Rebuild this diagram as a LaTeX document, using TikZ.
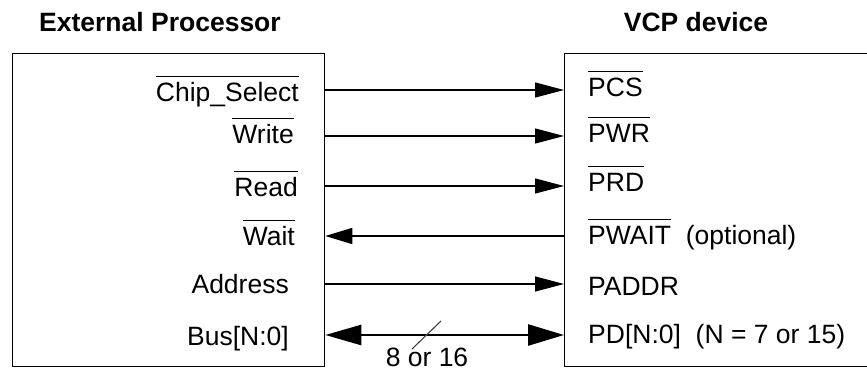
\documentclass[tikz,border=0pt]{standalone}
\usepackage{fontspec}
\setmainfont{Liberation Sans}
\usetikzlibrary{arrows.meta}
\newcommand{\ovl}[1]{\leavevmode\vbox{\hrule height 1.3pt\kern 6.5pt\hbox{\vphantom{A}\smash{#1}}}}
\begin{document}
\begin{tikzpicture}[x=1pt,y=-1pt,
  every node/.style={font=\fontsize{26.5}{30}\selectfont, inner sep=0pt},
  title/.style={font=\fontsize{26.5}{30}\selectfont\bfseries, anchor=base},
  box/.style={draw, line width=1.3pt},
  llab/.style={anchor=base east},
  rlab/.style={anchor=base west},
  sig/.style={line width=1.3pt, -{Triangle[length=29pt,width=15pt]}},
  sigl/.style={line width=1.3pt, {Triangle[length=27pt,width=16pt]}-},
  bus/.style={line width=2.6pt, {Triangle[length=36pt,width=20pt]}-{Triangle[length=36pt,width=21pt]}},
  slash/.style={line width=1.1pt, black!75}]
\useasboundingbox (0,0) rectangle (867,371);

\node[title] (t1) at (160,32) {External Processor};
\node[title] (t2) at (696,32) {VCP device};

\node[box, anchor=north west, minimum width=312pt, minimum height=313pt] (ep) at (12,53) {};
\node[box, anchor=north west, minimum width=320pt, minimum height=313pt] (vcp) at (564,53) {};

% rows
\coordinate (r1) at (0,90);
\coordinate (r2) at (0,136);
\coordinate (r3) at (0,186);
\coordinate (r4) at (0,236);
\coordinate (r5) at (0,284);
\coordinate (r6) at (0,335);

% left labels
\node[llab] (l1) at (299,102) {\ovl{Chip\_Select}};
\node[llab] (l2) at (294,144) {\ovl{Write}};
\node[llab] (l3) at (298,197) {\ovl{Read}};
\node[llab] (l4) at (295,246) {\ovl{Wait}};
\node[llab] (l5) at (289,294) {Address};
\node[llab] (l6) at (289,345) {Bus[N:0]};

% right labels
\node[rlab] (p1) at (588,97) {\ovl{PCS}};
\node[rlab] (p2) at (588,143) {\ovl{PWR}};
\node[rlab] (p3) at (588,192) {\ovl{PRD}};
\node[rlab] (p4) at (588,245) {\ovl{PWAIT}\ \ (optional)};
\node[rlab] (p5) at (588,295) {PADDR};
\node[rlab] (p6) at (588,343) {PD[N:0]\ \ (N = 7 or 15)};

% connectors
\draw[sig] (ep.east |- r1) -- (vcp.west |- r1);
\draw[sig] (ep.east |- r2) -- (vcp.west |- r2);
\draw[sig] (ep.east |- r3) -- (vcp.west |- r3);
\draw[sigl] (ep.east |- r4) -- (vcp.west |- r4);
\draw[sig] (ep.east |- r5) -- (vcp.west |- r5);
\draw[bus] (ep.east |- r6) -- (vcp.west |- r6);

% bus width mark
\coordinate (s1) at (412,349);
\coordinate (s2) at (441,321);
\draw[slash] (s1) -- (s2);
\node[anchor=base] (w) at (427,366) {8 or 16};
\end{tikzpicture}
\end{document}
